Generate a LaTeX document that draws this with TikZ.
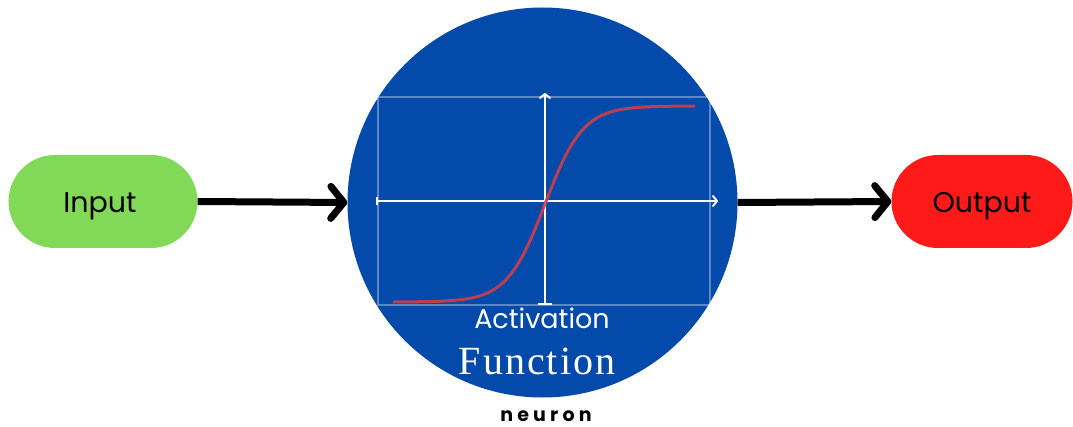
\documentclass[tikz,border=0pt]{standalone}
\usepackage{fontspec}
\setmainfont{Poppins}
\newfontfamily\serifface{Liberation Serif}
\usetikzlibrary{shapes.misc,arrows.meta}
\definecolor{nblue}{RGB}{4,74,170}
\definecolor{ngreen}{RGB}{130,217,87}
\definecolor{nred}{RGB}{255,26,26}
\definecolor{curve}{RGB}{205,62,72}
\begin{document}
\begin{tikzpicture}[x=1pt,y=-1pt,
  pill/.style={rounded rectangle, minimum height=93pt, inner sep=0pt,
    font=\fontsize{28.5}{32}\selectfont, text=black},
  flow/.style={line width=7pt, draw=black,
    -{Straight Barb[length=13pt,width=32pt,round]}},
  axis/.style={draw=white, line width=2pt}]
\useasboundingbox (0,0) rectangle (1073,427);
\fill[white] (0,0) rectangle (1073,427);

\node[pill, fill=ngreen, minimum width=189pt] (in) at (103,201.5) {\raisebox{-5pt}[\height][\depth]{Input\hspace{6pt}}};
\node[pill, fill=nred, minimum width=181pt] (out) at (982,201.5) {\raisebox{-5pt}[\height][\depth]{Output}};
\node[circle, fill=nblue, minimum size=390pt, inner sep=0pt] (neuron) at (542.5,202.5) {};

% graph inside the neuron
\draw[white, opacity=0.35, line width=1.5pt] (378,97) rectangle (710,305);
\draw[axis, {Bar[width=8pt]}-{Straight Barb[length=4pt,width=10pt,round]}] (376,201) -- (718,201);
\draw[axis, {Bar[width=14pt]}-{Straight Barb[length=4pt,width=10pt,round]}] (545,305) -- (545,93);
\draw[curve, line width=3pt, opacity=0.9] plot[domain=393:695, samples=120, smooth]
  (\x, {302-196/(1+exp(-(\x-545)/19))});

\node[text=white, font=\fontsize{27}{30}\selectfont, inner sep=0pt] (act) at (542,318) {Activation};
\node[text=white, inner sep=0pt] (fn) at (537,361)
  {\serifface\fontsize{40}{42}\selectfont\addfontfeature{LetterSpace=5}Function};
\node[text=black, inner sep=0pt] (lbl) at (546,416)
  {\bfseries\fontsize{19}{22}\selectfont\addfontfeature{LetterSpace=22}neuron};

\draw[flow] (in.east) -- (neuron.west);
\draw[flow] (neuron.east) -- (out.west);
\end{tikzpicture}
\end{document}
